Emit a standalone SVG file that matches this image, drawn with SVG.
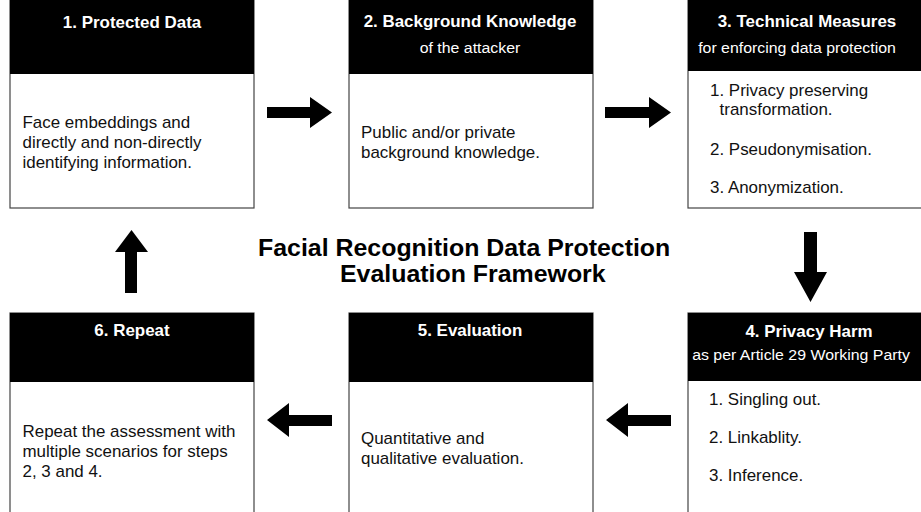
<svg xmlns="http://www.w3.org/2000/svg" width="921" height="512" viewBox="0 0 921 512">
<style>
.box{fill:#fff;stroke:#444;stroke-width:1.2}
.hdr{fill:#000}
.t{font-family:"Liberation Sans",Arial,sans-serif;font-size:16px;fill:#111}
.h{font-family:"Liberation Sans",Arial,sans-serif;font-size:16px;font-weight:bold;fill:#fff;text-anchor:middle}
.s{font-family:"Liberation Sans",Arial,sans-serif;font-size:15px;fill:#fff;text-anchor:middle}
.ttl{font-family:"Liberation Sans",Arial,sans-serif;font-size:23.5px;font-weight:bold;fill:#000}
.ar{fill:#000}
</style>
<rect width="921" height="512" fill="#fff"/>
<g id="node1">
<rect class="box" x="10" y="-2" width="244" height="210"/>
<rect class="hdr" x="10" y="-2" width="244" height="76"/>
<text class="h" transform="matrix(1.06 0 0 1 132 0)" x="0" y="28">1. Protected Data</text>
<text class="t" transform="matrix(1.06 0 0 1 22.5 0)" y="128"><tspan x="0">Face embeddings and</tspan><tspan x="0" dy="20">directly and non-directly</tspan><tspan x="0" dy="20">identifying information.</tspan></text>
</g>
<g id="node2">
<rect class="box" x="349" y="-2" width="244" height="210"/>
<rect class="hdr" x="349" y="-2" width="244" height="76"/>
<text class="h" transform="matrix(1.06 0 0 1 470 0)" x="0" y="27">2. Background Knowledge</text>
<text class="s" transform="matrix(1.06 0 0 1 470 0)" x="0" y="53">of the attacker</text>
<text class="t" transform="matrix(1.06 0 0 1 361 0)" y="138"><tspan x="0">Public and/or private</tspan><tspan x="0" dy="20">background knowledge.</tspan></text>
</g>
<g id="node3">
<rect class="box" x="688" y="-2" width="244" height="210"/>
<rect class="hdr" x="688" y="-2" width="244" height="73"/>
<text class="h" transform="matrix(1.06 0 0 1 807 0)" x="0" y="27">3. Technical Measures</text>
<text class="s" transform="matrix(1.06 0 0 1 797 0)" x="0" y="53">for enforcing data protection</text>
<text class="t" transform="matrix(1.06 0 0 1 710 0)" y="96"><tspan x="0">1. Privacy preserving</tspan><tspan x="9" dy="19">transformation.</tspan><tspan x="0" dy="40">2. Pseudonymisation.</tspan><tspan x="0" dy="38">3. Anonymization.</tspan></text>
</g>
<g id="node4">
<rect class="box" x="688" y="313" width="244" height="210"/>
<rect class="hdr" x="688" y="313" width="244" height="68"/>
<text class="h" transform="matrix(1.06 0 0 1 809 0)" x="0" y="337">4. Privacy Harm</text>
<text class="s" transform="matrix(1.06 0 0 1 801 0)" x="0" y="360">as per Article 29 Working Party</text>
<text class="t" transform="matrix(1.06 0 0 1 709 0)" y="405"><tspan x="0">1. Singling out.</tspan><tspan x="0" dy="38">2. Linkablity.</tspan><tspan x="0" dy="38">3. Inference.</tspan></text>
</g>
<g id="node5">
<rect class="box" x="349" y="313" width="244" height="210"/>
<rect class="hdr" x="349" y="313" width="244" height="69"/>
<text class="h" transform="matrix(1.06 0 0 1 470 0)" x="0" y="336">5. Evaluation</text>
<text class="t" transform="matrix(1.06 0 0 1 361 0)" y="444"><tspan x="0">Quantitative and</tspan><tspan x="0" dy="20">qualitative evaluation.</tspan></text>
</g>
<g id="node6">
<rect class="box" x="10" y="313" width="244" height="210"/>
<rect class="hdr" x="10" y="313" width="244" height="69"/>
<text class="h" transform="matrix(1.06 0 0 1 132 0)" x="0" y="336">6. Repeat</text>
<text class="t" transform="matrix(1.06 0 0 1 22.5 0)" y="437"><tspan x="0">Repeat the assessment with</tspan><tspan x="0" dy="20">multiple scenarios for steps</tspan><tspan x="0" dy="20">2, 3 and 4.</tspan></text>
</g>
<g id="title">
<text class="ttl" transform="matrix(1.06 0 0 1 258 0)" x="0" y="256">Facial Recognition Data Protection</text>
<text class="ttl" transform="matrix(1.06 0 0 1 340 0)" x="0" y="282">Evaluation Framework</text>
</g>
<g id="connectors">
<polygon class="ar" points="267,107 310,107 310,97 332,112.5 310,128 310,118 267,118"/>
<polygon class="ar" points="605,107 649,107 649,97 671,112.5 649,128 649,118 605,118"/>
<polygon class="ar" points="804,232 817,232 817,272 827,272 810.5,302 794,272 804,272"/>
<polygon class="ar" points="671,415 628,415 628,403 606,420 628,437 628,426 671,426"/>
<polygon class="ar" points="332,415 289,415 289,403 267,420 289,437 289,426 332,426"/>
<polygon class="ar" points="125,293 137,293 137,252 148,252 131.5,230 115,252 125,252"/>
</g>
</svg>
